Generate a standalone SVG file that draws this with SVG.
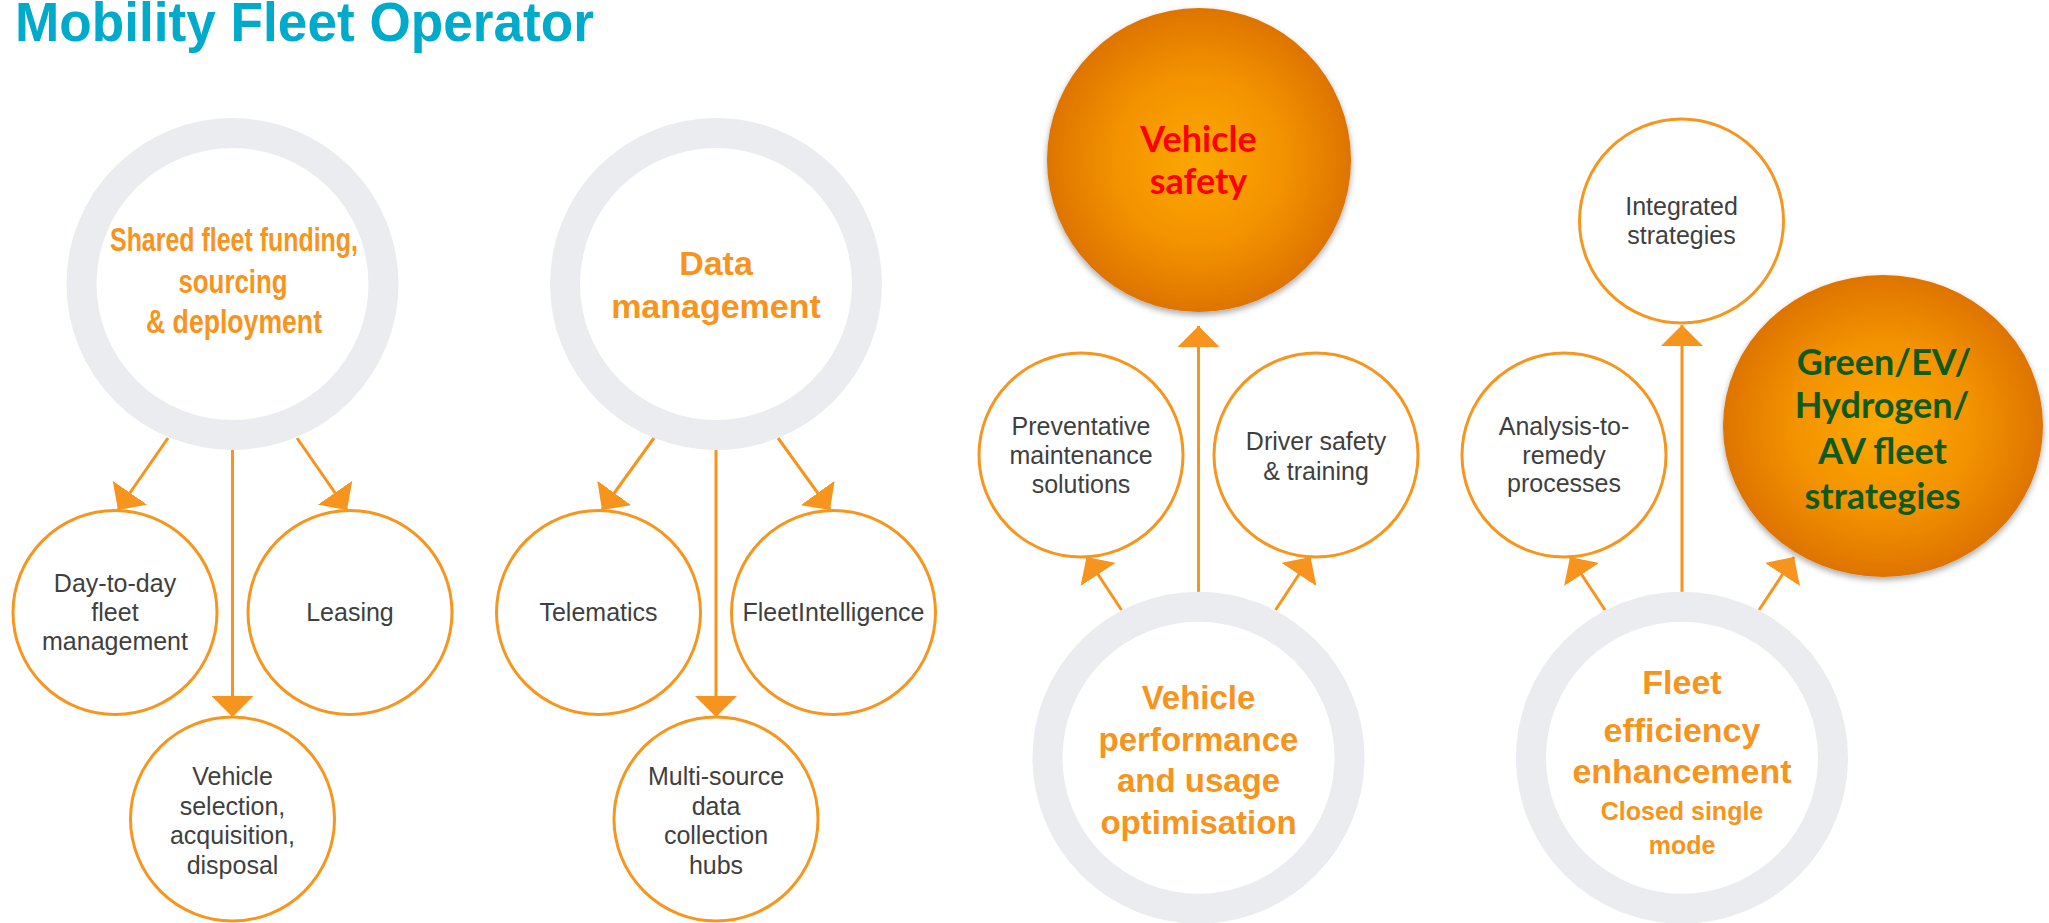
<svg xmlns="http://www.w3.org/2000/svg" width="2049" height="923" viewBox="0 0 2049 923">
<defs>
<style>
.ring{fill:none;stroke:#EBECEF;stroke-width:30}
.child{fill:#fff;stroke:#F7961F;stroke-width:3}
.conn{stroke:#F7941D;stroke-width:3;fill:none;marker-end:url(#ah)}
.lbl{font-family:"Liberation Sans",Arial,sans-serif;font-size:25px;fill:#3F3F3F;text-anchor:middle}
.hub{font-family:"Liberation Sans",Arial,sans-serif;font-weight:bold;fill:#F7941E;text-anchor:middle}
.ballt{font-family:Lato,"Open Sans",sans-serif;font-weight:bold;font-size:36px;text-anchor:middle}
</style>
<marker id="ah" markerUnits="userSpaceOnUse" viewBox="0 0 21 42" refX="21" refY="21" markerWidth="21" markerHeight="42" orient="auto">
<path d="M0,0 L21,21 L0,42 Z" fill="#F7941D"/>
</marker>
<radialGradient id="ballg" cx="0.5" cy="0.5" r="0.5">
<stop offset="0" stop-color="#FCA800"/>
<stop offset="0.55" stop-color="#F39300"/>
<stop offset="1" stop-color="#DE7400"/>
</radialGradient>
<filter id="sh" x="-10%" y="-10%" width="120%" height="125%">
<feDropShadow dx="0" dy="3" stdDeviation="3" flood-color="#000" flood-opacity="0.35"/>
</filter>
</defs>
<rect width="2049" height="923" fill="#fff"/>
<text id="title" x="15" y="41" font-family="'Liberation Sans',Arial,sans-serif" font-weight="bold" font-size="56" fill="#00AACB" textLength="579" lengthAdjust="spacingAndGlyphs">Mobility Fleet Operator</text>

<g id="connectors">
<path class="conn" d="M168,438 L118,510"/>
<path class="conn" d="M232.5,450 L232.5,717"/>
<path class="conn" d="M297,438 L347,510"/>
<path class="conn" d="M654,438 L602,510"/>
<path class="conn" d="M716,450 L716,717"/>
<path class="conn" d="M778,438 L830,510"/>
<path class="conn" d="M1121.5,610 L1086.5,557"/>
<path class="conn" d="M1198.5,592 L1198.5,326"/>
<path class="conn" d="M1275.5,610 L1310.5,557"/>
<path class="conn" d="M1605,610 L1570,557"/>
<path class="conn" d="M1682,592 L1682,325"/>
<path class="conn" d="M1759,610 L1794,557"/>
</g>

<g id="hub-shared">
<circle class="ring" cx="232.5" cy="284" r="151"/>
<text class="hub" font-size="33"><tspan x="234" y="251" textLength="248" lengthAdjust="spacingAndGlyphs">Shared fleet funding,</tspan><tspan x="233" y="293" textLength="109" lengthAdjust="spacingAndGlyphs">sourcing</tspan><tspan x="234" y="333" textLength="176" lengthAdjust="spacingAndGlyphs">&amp; deployment</tspan></text>
</g>
<g id="day-to-day">
<circle class="child" cx="115" cy="612.5" r="102"/>
<text class="lbl"><tspan x="115" y="592">Day-to-day</tspan><tspan x="115" y="621">fleet</tspan><tspan x="115" y="650">management</tspan></text>
</g>
<g id="leasing">
<circle class="child" cx="350" cy="612.5" r="102"/>
<text class="lbl" x="350" y="621">Leasing</text>
</g>
<g id="vehicle-selection">
<circle class="child" cx="232.5" cy="819" r="102"/>
<text class="lbl"><tspan x="232.5" y="785">Vehicle</tspan><tspan x="232.5" y="814.5">selection,</tspan><tspan x="232.5" y="844">acquisition,</tspan><tspan x="232.5" y="873.5">disposal</tspan></text>
</g>

<g id="hub-data">
<circle class="ring" cx="716" cy="284" r="151"/>
<text class="hub" font-size="34"><tspan x="716" y="275">Data</tspan><tspan x="716" y="318">management</tspan></text>
</g>
<g id="telematics">
<circle class="child" cx="598.5" cy="612.5" r="102"/>
<text class="lbl" x="598.5" y="621">Telematics</text>
</g>
<g id="fleetintelligence">
<circle class="child" cx="833.5" cy="612.5" r="102"/>
<text class="lbl" x="833.5" y="621">FleetIntelligence</text>
</g>
<g id="multi-source">
<circle class="child" cx="716" cy="819" r="102"/>
<text class="lbl"><tspan x="716" y="785">Multi-source</tspan><tspan x="716" y="814.5">data</tspan><tspan x="716" y="844">collection</tspan><tspan x="716" y="873.5">hubs</tspan></text>
</g>

<g id="hub-performance">
<circle class="ring" cx="1198.5" cy="757.7" r="151"/>
<text class="hub" font-size="33"><tspan x="1198.5" y="708.5">Vehicle</tspan><tspan x="1198.5" y="751">performance</tspan><tspan x="1198.5" y="792">and usage</tspan><tspan x="1198.5" y="833.5">optimisation</tspan></text>
</g>
<g id="vehicle-safety">
<circle cx="1199" cy="160" r="152" fill="url(#ballg)" filter="url(#sh)"/>
<text class="ballt" fill="#FF0000"><tspan x="1198.5" y="151.5">Vehicle</tspan><tspan x="1198.5" y="193.5">safety</tspan></text>
</g>
<g id="preventative">
<circle class="child" cx="1081" cy="455" r="102"/>
<text class="lbl"><tspan x="1081" y="434.5">Preventative</tspan><tspan x="1081" y="463.5">maintenance</tspan><tspan x="1081" y="492.5">solutions</tspan></text>
</g>
<g id="driver-safety">
<circle class="child" cx="1316" cy="455" r="102"/>
<text class="lbl"><tspan x="1316" y="450">Driver safety</tspan><tspan x="1316" y="479.5">&amp; training</tspan></text>
</g>

<g id="hub-efficiency">
<circle class="ring" cx="1682" cy="757.7" r="151"/>
<text class="hub"><tspan x="1682" y="693.5" font-size="34">Fleet</tspan><tspan x="1682" y="742" font-size="34">efficiency</tspan><tspan x="1682" y="783" font-size="34">enhancement</tspan><tspan x="1682" y="820" font-size="25">Closed single</tspan><tspan x="1682" y="853.5" font-size="25">mode</tspan></text>
</g>
<g id="integrated">
<circle class="child" cx="1681.5" cy="221" r="102"/>
<text class="lbl"><tspan x="1681.5" y="215">Integrated</tspan><tspan x="1681.5" y="244">strategies</tspan></text>
</g>
<g id="analysis">
<circle class="child" cx="1564" cy="455" r="102"/>
<text class="lbl"><tspan x="1564" y="435">Analysis-to-</tspan><tspan x="1564" y="463.5">remedy</tspan><tspan x="1564" y="492">processes</tspan></text>
</g>
<g id="green-ev">
<ellipse cx="1883" cy="426" rx="160" ry="151" fill="url(#ballg)" filter="url(#sh)"/>
<text class="ballt" fill="#0E5A1C"><tspan x="1884" y="375">Green/EV/</tspan><tspan x="1882" y="418">Hydrogen/</tspan><tspan x="1882.5" y="463.5">AV fleet</tspan><tspan x="1882.5" y="508.5">strategies</tspan></text>
</g>
</svg>
